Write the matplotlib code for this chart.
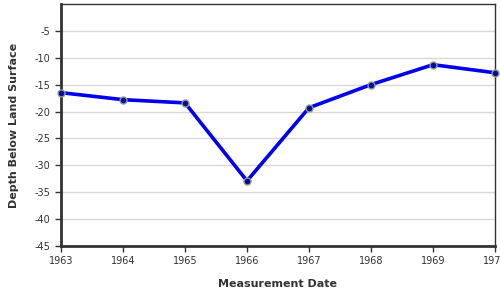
import matplotlib
matplotlib.use("Agg")
import matplotlib.pyplot as plt

plt.rcParams["axes.unicode_minus"] = False

years = [1963, 1964, 1965, 1966, 1967, 1968, 1969, 1970]
depth = [-16.5, -17.8, -18.4, -32.9, -19.3, -15.0, -11.3, -12.8]
yticks = [-45, -40, -35, -30, -25, -20, -15, -10, -5]
xticks = [1963, 1964, 1965, 1966, 1967, 1968, 1969, 1970]

fig = plt.figure(figsize=(5, 3), dpi=100)
ax = fig.add_axes([0.122, 0.18, 0.868, 0.807])
ax.plot(years, depth, color="#0000ee", lw=2.6, marker="o", ms=5,
        markerfacecolor="#0a0a99", markeredgecolor="#8a9a9a", markeredgewidth=1.0,
        zorder=3, clip_on=False)
ax.set_xlim(1963, 1970)
ax.set_ylim(-45, 0)
ax.set_yticks(yticks)
ax.set_yticklabels([str(y) for y in yticks])
ax.set_xticks(xticks)
ax.set_xticklabels([str(x) for x in xticks])
ax.yaxis.grid(True, color="#d8d8d8", lw=1)
ax.set_axisbelow(True)
for s in ["left", "bottom"]:
    ax.spines[s].set_linewidth(2)
    ax.spines[s].set_color("#333333")
for s in ["top", "right"]:
    ax.spines[s].set_linewidth(1)
    ax.spines[s].set_color("#333333")
ax.tick_params(axis="both", labelsize=7, colors="#333333", length=4, width=1)
ax.set_xlabel("Measurement Date", fontsize=8, fontweight="bold", color="#333333", labelpad=9)
ax.set_ylabel("Depth Below Land Surface", fontsize=8, fontweight="bold", color="#333333", labelpad=11)
fig.savefig("out.png", dpi=100)
